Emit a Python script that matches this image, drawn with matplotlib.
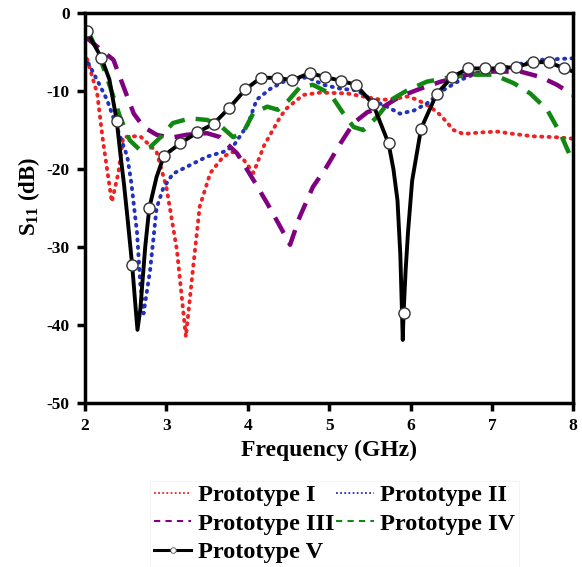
import numpy as np
import matplotlib.pyplot as plt
from matplotlib.lines import Line2D

plt.rcParams['font.family'] = ['Liberation Serif', 'DejaVu Serif']
plt.rcParams['font.weight'] = 'bold'
plt.rcParams['axes.unicode_minus'] = False
plt.rcParams['mathtext.default'] = 'regular'

# Prototype I (red dotted)
f1 = [2.0, 2.15, 2.22, 2.33, 2.41, 2.47, 2.58, 2.68, 2.88, 3.0, 3.13, 3.24, 3.33, 3.41,
      3.54, 3.7, 3.82, 3.95, 4.07, 4.2, 4.4, 4.48, 4.68, 4.89, 5.22, 5.42, 5.63, 5.75,
      5.96, 6.08, 6.24, 6.37, 6.53, 6.65, 6.86, 7.07, 7.27, 7.51, 7.76, 8.0]
s1 = [-5.0, -10.3, -16.3, -24.2, -20.5, -15.9, -15.8, -15.8, -17.8, -22.3, -30.4, -41.5, -32.5, -24.8,
      -20.5, -18.4, -17.8, -18.8, -20.5, -17.0, -13.3, -12.2, -10.5, -10.2, -10.3, -10.7, -11.1, -11.1,
      -10.7, -11.1, -12.0, -13.1, -15.0, -15.5, -15.3, -15.2, -15.5, -15.8, -15.9, -16.1]

# Prototype II (blue dotted)
f2 = [2.0, 2.15, 2.27, 2.39, 2.52, 2.57, 2.64, 2.68, 2.72, 2.8, 2.88, 2.96, 3.08, 3.29,
      3.5, 3.7, 3.82, 4.0, 4.11, 4.28, 4.44, 4.52, 4.73, 4.93, 5.14, 5.34, 5.54, 5.71,
      5.87, 6.04, 6.2, 6.4, 6.61, 6.86, 7.1, 7.35, 7.6, 8.0]
s2 = [-5.6, -8.6, -11.1, -14.6, -18.4, -21.8, -28.2, -34.7, -38.5, -33.0, -25.0, -22.5, -20.6, -19.5,
      -18.4, -17.8, -17.1, -14.3, -11.1, -9.7, -8.8, -8.8, -8.2, -9.2, -9.7, -9.9, -11.2, -12.0,
      -12.9, -12.5, -11.6, -9.9, -8.6, -7.5, -7.1, -6.5, -6.0, -5.8]

# Prototype III (purple dashed)
f3 = [2.0, 2.15, 2.35, 2.49, 2.6, 2.72, 2.88, 3.05, 3.25, 3.5, 3.66, 3.87, 4.07, 4.24,
      4.4, 4.52, 4.64, 4.8, 4.97, 5.14, 5.3, 5.47, 5.67, 5.87, 6.12, 6.37, 6.7, 7.02,
      7.35, 7.6, 7.8, 8.0]
s3 = [-3.0, -4.3, -6.0, -9.9, -12.9, -14.6, -15.6, -16.0, -15.6, -15.4, -15.9, -18.0, -21.4, -24.4,
      -27.4, -29.7, -26.1, -22.3, -19.7, -16.7, -14.1, -12.7, -12.0, -10.7, -9.7, -8.8, -7.9, -7.5,
      -7.5, -8.2, -9.2, -10.5]

# Prototype IV (green dashed)
f4 = [2.0, 2.06, 2.18, 2.31, 2.43, 2.55, 2.68, 2.8, 2.92, 3.08, 3.29, 3.5, 3.66, 3.82,
      3.94, 4.07, 4.24, 4.37, 4.5, 4.64, 4.8, 5.01, 5.17, 5.3, 5.42, 5.59, 5.75, 5.96,
      6.2, 6.45, 6.73, 7.02, 7.27, 7.47, 7.68, 7.84, 8.0]
s4 = [-2.0, -2.8, -5.6, -9.5, -13.3, -16.3, -17.6, -17.2, -16.0, -14.1, -13.5, -13.7, -14.4, -15.9,
      -15.4, -12.8, -12.0, -12.4, -11.2, -9.5, -9.2, -10.3, -12.8, -14.6, -15.0, -13.3, -11.2, -9.9,
      -8.8, -8.3, -7.9, -7.9, -9.0, -10.3, -12.4, -15.4, -19.2]

# Prototype V (black solid with circles)
f5 = [2.0, 2.02, 2.2, 2.3, 2.39, 2.43, 2.48, 2.52, 2.58, 2.62, 2.645, 2.68, 2.74, 2.79,
      2.88, 2.97, 3.17, 3.38, 3.58, 3.77, 3.97, 4.16, 4.36, 4.55, 4.76, 4.95, 5.15, 5.33,
      5.54, 5.73, 5.79, 5.84, 5.875, 5.905, 5.915, 5.94, 5.97, 6.02, 6.13, 6.32, 6.51, 6.71,
      6.91, 7.1, 7.3, 7.51, 7.7, 7.89, 8.0]
s5 = [-2.0, -2.3, -5.7, -8.5, -13.8, -17.6, -22.0, -26.0, -32.3, -37.5, -40.6, -38.0, -30.0, -25.0,
      -21.0, -18.3, -16.7, -15.3, -14.2, -12.2, -9.8, -8.3, -8.3, -8.6, -7.7, -8.2, -8.7, -9.2,
      -11.7, -16.7, -20.0, -24.0, -31.0, -41.9, -38.4, -33.0, -28.0, -21.5, -14.8, -10.4, -8.2, -7.1,
      -7.1, -7.1, -6.9, -6.3, -6.3, -7.1, -7.5]
marks5 = [1, 2, 4, 8, 13, 15, 16, 17, 18, 19, 20, 21, 22, 23, 24, 25, 26, 27, 28, 29,
          34, 38, 39, 40, 41, 42, 43, 44, 45, 46, 47]

labels = ['Prototype I', 'Prototype II', 'Prototype III', 'Prototype IV', 'Prototype V']
colors = ['#ee2222', '#2233bb', '#800080', '#118811', 'black']

fig = plt.figure(figsize=(5.82, 5.67), dpi=100)
ax = fig.add_axes([0.146, 0.289, 0.839, 0.688])

dot = (0, (0.3, 1.6))
dash = (0, (4, 2.5))
ax.plot(f1, s1, color=colors[0], lw=2.8, ls=dot, dash_capstyle='round')
ax.plot(f2, s2, color=colors[1], lw=2.8, ls=dot, dash_capstyle='round')
ax.plot(f3, s3, color=colors[2], lw=3.2, ls=dash)
ax.plot(f4, s4, color=colors[3], lw=3.2, ls=dash)
ax.plot(f5, s5, color=colors[4], lw=2.8, marker='o', ms=8, mfc='white', mec='#333333',
        mew=1.0, markevery=marks5)

ax.set_xlim(2, 8)
ax.set_ylim(-50, 0)
ax.set_xticks(range(2, 9))
ax.set_yticks(range(-50, 1, 10))
for sp in ax.spines.values():
    sp.set_linewidth(2.5)
ax.tick_params(direction='out', length=6, width=2.5, labelsize=12.5, pad=5)
for lab in ax.get_xticklabels() + ax.get_yticklabels():
    lab.set_fontweight('bold')

ax.set_xlabel('Frequency (GHz)', fontsize=17, fontweight='bold', labelpad=4)
ax.set_ylabel('S$_{11}$ (dB)', fontsize=16.5, fontweight='bold', labelpad=1)
ax.yaxis.set_label_coords(-0.088, 0.53)

# legend proxies with thin lines, order gives rows I/II, III/IV, V
h = [Line2D([], [], color=colors[0], lw=1.3, ls=(0, (1, 1.3))),
     Line2D([], [], color=colors[1], lw=1.3, ls=(0, (1, 1.3))),
     Line2D([], [], color=colors[2], lw=1.5, ls=(0, (3, 2.5))),
     Line2D([], [], color=colors[3], lw=1.5, ls=(0, (3, 2.5))),
     Line2D([], [], color='black', lw=2.2, marker='o', ms=4, mfc='white', mec='#555555',
            mew=0.6)]
order = [0, 2, 4, 1, 3]
leg = fig.legend([h[i] for i in order], [labels[i] for i in order],
                 loc='upper left', bbox_to_anchor=(0.258, 0.152), ncol=2,
                 prop={'size': 17.5, 'weight': 'bold'}, handlelength=1.55,
                 handletextpad=0.25, columnspacing=0.1, labelspacing=0.26,
                 frameon=True, fancybox=False, borderpad=0.15, borderaxespad=0)
leg.get_frame().set_edgecolor('#f2f2f2')
leg.get_frame().set_linewidth(0.8)

fig.savefig('out.png', dpi=100)
